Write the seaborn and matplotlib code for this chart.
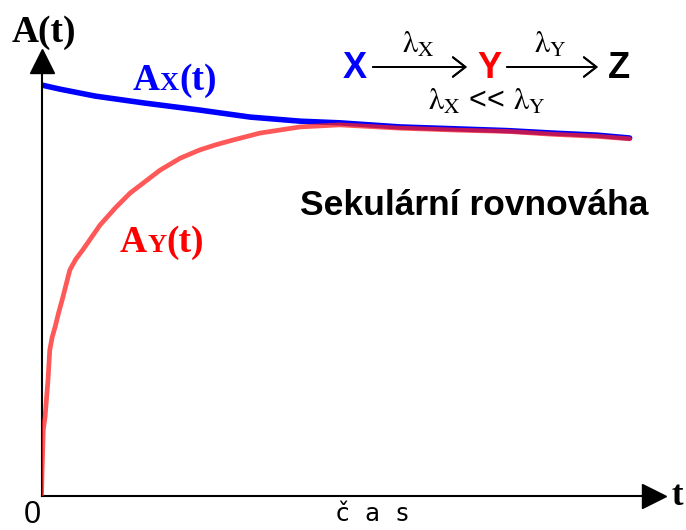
import pandas as pd
import seaborn as sns
import matplotlib.pyplot as plt
from matplotlib.offsetbox import TextArea, HPacker, AnnotationBbox

# time (arbitrary units) and activity, scaled so that A_X(0) = 100
t_x = [0, 0.31, 0.91, 1.75, 2.68, 3.53, 4.38, 5.05, 6.07, 7.09, 7.90, 8.66, 9.41, 9.96]
a_x = [100, 99.0, 97.3, 95.6, 93.9, 92.2, 91.2, 90.8, 89.8, 89.3, 88.9, 88.3, 87.8, 87.1]

t_y = [0, 0.01, 0.03, 0.06, 0.11, 0.14, 0.18, 0.23, 0.29, 0.35, 0.48, 0.58, 0.70, 0.99,
       1.25, 1.50, 2.01, 2.35, 2.68, 2.94, 3.24, 3.70, 4.38, 5.05, 6.07, 7.09, 7.90,
       8.66, 9.41, 9.96]
a_y = [0, 6.3, 16.1, 19.2, 28.2, 35.5, 38.6, 41.1, 44.6, 47.7, 55.0, 57.6, 59.9, 65.9,
       70.1, 73.7, 79.3, 82.2, 84.2, 85.4, 86.6, 88.3, 89.8, 90.3, 89.5, 89.0, 88.7,
       88.0, 87.5, 86.9]

df_x = pd.DataFrame({'t': t_x, 'A': a_x})
df_y = pd.DataFrame({'t': t_y, 'A': a_y})

sns.set_style('white')
plt.rcParams['mathtext.fontset'] = 'stix'
plt.rcParams['text.color'] = 'black'

W, H = 686, 530
fig = plt.figure(figsize=(W / 100, H / 100), dpi=100)
ax = fig.add_axes([41.5 / W, 34 / H, 612 / W, 435 / H])

sns.lineplot(data=df_x, x='t', y='A', color='#0000ff', linewidth=4, ax=ax, zorder=2)
sns.lineplot(data=df_y, x='t', y='A', color='#ff2020', alpha=0.75, linewidth=3.4, ax=ax, zorder=3)

ax.set_xlim(0, 612 / 59.05)
ax.set_ylim(0, 435 / 4.11)
ax.set_xticks([])
ax.set_yticks([])
ax.set_xlabel('')
ax.set_ylabel('')
for s in ['top', 'right']:
    ax.spines[s].set_visible(False)
for s in ['left', 'bottom']:
    ax.spines[s].set_color('black')
    ax.spines[s].set_linewidth(1.5)
ax.plot(1, 0, '>k', ms=17, transform=ax.transAxes, clip_on=False)
ax.plot(0, 1, '^k', ms=17, transform=ax.transAxes, clip_on=False)


def ftext(x, y, s, **kw):
    kw.setdefault('color', 'black')
    fig.text(x / W, 1 - y / H, s, **kw)


def sub_label(x, baseline, main, sub, color):
    big = dict(family='Liberation Serif', weight='bold', size=27, color=color)
    small = dict(family='Liberation Serif', weight='bold', size=19, color=color)
    box = HPacker(children=[TextArea(main, textprops=big),
                            TextArea(sub, textprops=small),
                            TextArea('(t)', textprops=big)],
                  align='baseline', pad=0, sep=0)
    ab = AnnotationBbox(box, (x, H - baseline - 8), xycoords='figure pixels',
                        box_alignment=(0, 0), frameon=False, pad=0)
    fig.add_artist(ab)


serif_b = dict(family='Liberation Serif', weight='bold')
sans_b = dict(family='Liberation Sans', weight='bold')

ftext(12, 42, 'A(t)', size=27, va='baseline', ha='left', **serif_b)
sub_label(133, 90, 'A', 'X', '#0000ff')
sub_label(120, 252, 'A', 'Y', '#ff0000')

# reaction scheme
ftext(343, 78, 'X', size=26, color='#0000ff', va='baseline', ha='left', **sans_b)
ftext(477, 78, 'Y', size=26, color='#ff0000', va='baseline', ha='left', **sans_b)
ftext(608, 78, 'Z', size=26, va='baseline', ha='left', **sans_b)
for x0, x1 in [(373, 467), (507, 598)]:
    fig.add_artist(plt.annotate('', xy=(x1, H - 67), xytext=(x0, H - 67),
                                xycoords='figure pixels', textcoords='figure pixels',
                                arrowprops=dict(arrowstyle='->, head_length=0.45, head_width=0.35',
                                                lw=1.4, color='black', mutation_scale=20,
                                                shrinkA=0, shrinkB=0)))
lam_x = r'$\mathrm{\lambda}_{\mathrm{X}}$'
lam_y = r'$\mathrm{\lambda}_{\mathrm{Y}}$'
ftext(418, 53, lam_x, size=22, ha='center', va='baseline')
ftext(550, 53, lam_y, size=22, ha='center', va='baseline')
ftext(487, 110, lam_x + ' << ' + lam_y, size=22,
      ha='center', va='baseline', family='Liberation Sans')

ftext(300, 215, 'Sekulární rovnováha', size=25.5, ha='left', va='baseline', **sans_b)

ftext(32, 500, '0', size=22, ha='center', va='top', family='Liberation Sans')
ftext(672, 505, 't', size=25, ha='left', va='baseline', **serif_b)
ftext(335, 502, 'č a s', size=18, ha='left', va='top', family='DejaVu Sans Mono')

fig.savefig('out.png', dpi=100)
